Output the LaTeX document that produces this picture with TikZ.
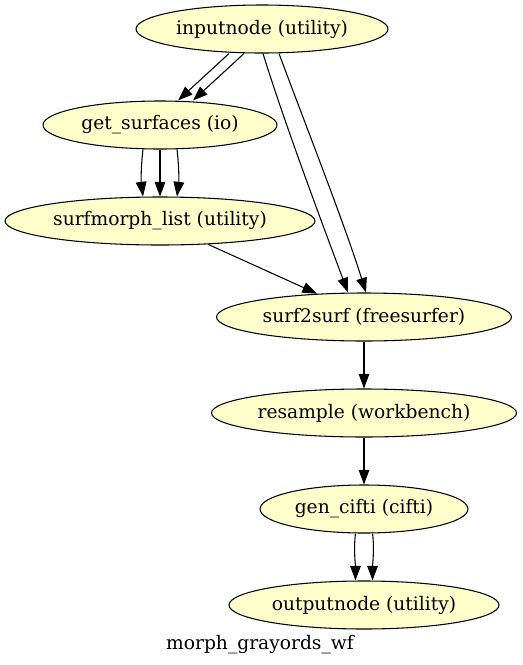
\documentclass[tikz,border=0pt]{standalone}
\usepackage{fontspec}
\setmainfont{DejaVu Serif}
\usetikzlibrary{arrows.meta,shapes.geometric}
\definecolor{nodefill}{HTML}{FFFFCC}
\begin{document}
\begin{tikzpicture}[x=0.75pt,y=-0.75pt,
  gnode/.style={ellipse,draw=black,fill=nodefill,line width=0.8pt,inner sep=0pt,
    minimum height=36pt,font=\fontsize{14pt}{16pt}\selectfont},
  edge/.style={draw=black,line width=0.8pt,-{Triangle[length=11pt,width=8pt]}},
  glabel/.style={font=\fontsize{14pt}{16pt}\selectfont,inner sep=0pt}]
\useasboundingbox (0,0) rectangle (522,665);
\node[gnode,minimum width=189pt]   (in)  at (262,29)  {inputnode (utility)};
\node[gnode,minimum width=175.5pt] (gs)  at (160,125) {get\_surfaces (io)};
\node[gnode,minimum width=232.5pt] (sm)  at (160,221) {surfmorph\_list (utility)};
\node[gnode,minimum width=221.25pt](s2s) at (364,317) {surf2surf (freesurfer)};
\node[gnode,minimum width=228.75pt](rs)  at (364,413) {resample (workbench)};
\node[gnode,minimum width=156pt]   (gc)  at (364,509) {gen\_cifti (cifti)};
\node[gnode,minimum width=202.5pt] (on)  at (364,605) {outputnode (utility)};
\node[glabel] (title) at (260,645) {morph\_grayords\_wf};
% inputnode -> get_surfaces
\draw[edge] ([xshift=-24.75pt]in.south) -- ([xshift=13.5pt]gs.north);
\draw[edge] ([xshift=-13.5pt]in.south) -- ([xshift=24.75pt]gs.north);
% get_surfaces -> surfmorph_list
\draw[edge] ([xshift=-12.75pt]gs.south) .. controls +(-2,16) and +(-2,-16) .. ([xshift=-12.75pt]sm.north);
\draw[edge] (gs.south) -- (sm.north);
\draw[edge] ([xshift=12.75pt]gs.south) .. controls +(2,16) and +(2,-16) .. ([xshift=12.75pt]sm.north);
% inputnode -> surf2surf
\draw[edge] ([xshift=0.75pt]in.south) .. controls +(20,65) and +(-27,-72) .. ([xshift=-12pt]s2s.north);
\draw[edge] ([xshift=12.75pt]in.south) .. controls +(26,70) and +(-22,-70) .. ([xshift=1.5pt]s2s.north);
% surfmorph_list -> surf2surf
\draw[edge] ([xshift=36pt,yshift=0.9pt]sm.south) -- ([xshift=-35.25pt,yshift=-0.9pt]s2s.north);
% chain
\draw[edge] (s2s.south) -- (rs.north);
\draw[edge] (rs.south) -- (gc.north);
\draw[edge] ([xshift=-6.4pt]gc.south) .. controls +(-2,16) and +(0,-16) .. ([xshift=-6.4pt]on.north);
\draw[edge] ([xshift=6.4pt]gc.south) .. controls +(2,16) and +(0,-16) .. ([xshift=6.4pt]on.north);
\end{tikzpicture}
\end{document}
